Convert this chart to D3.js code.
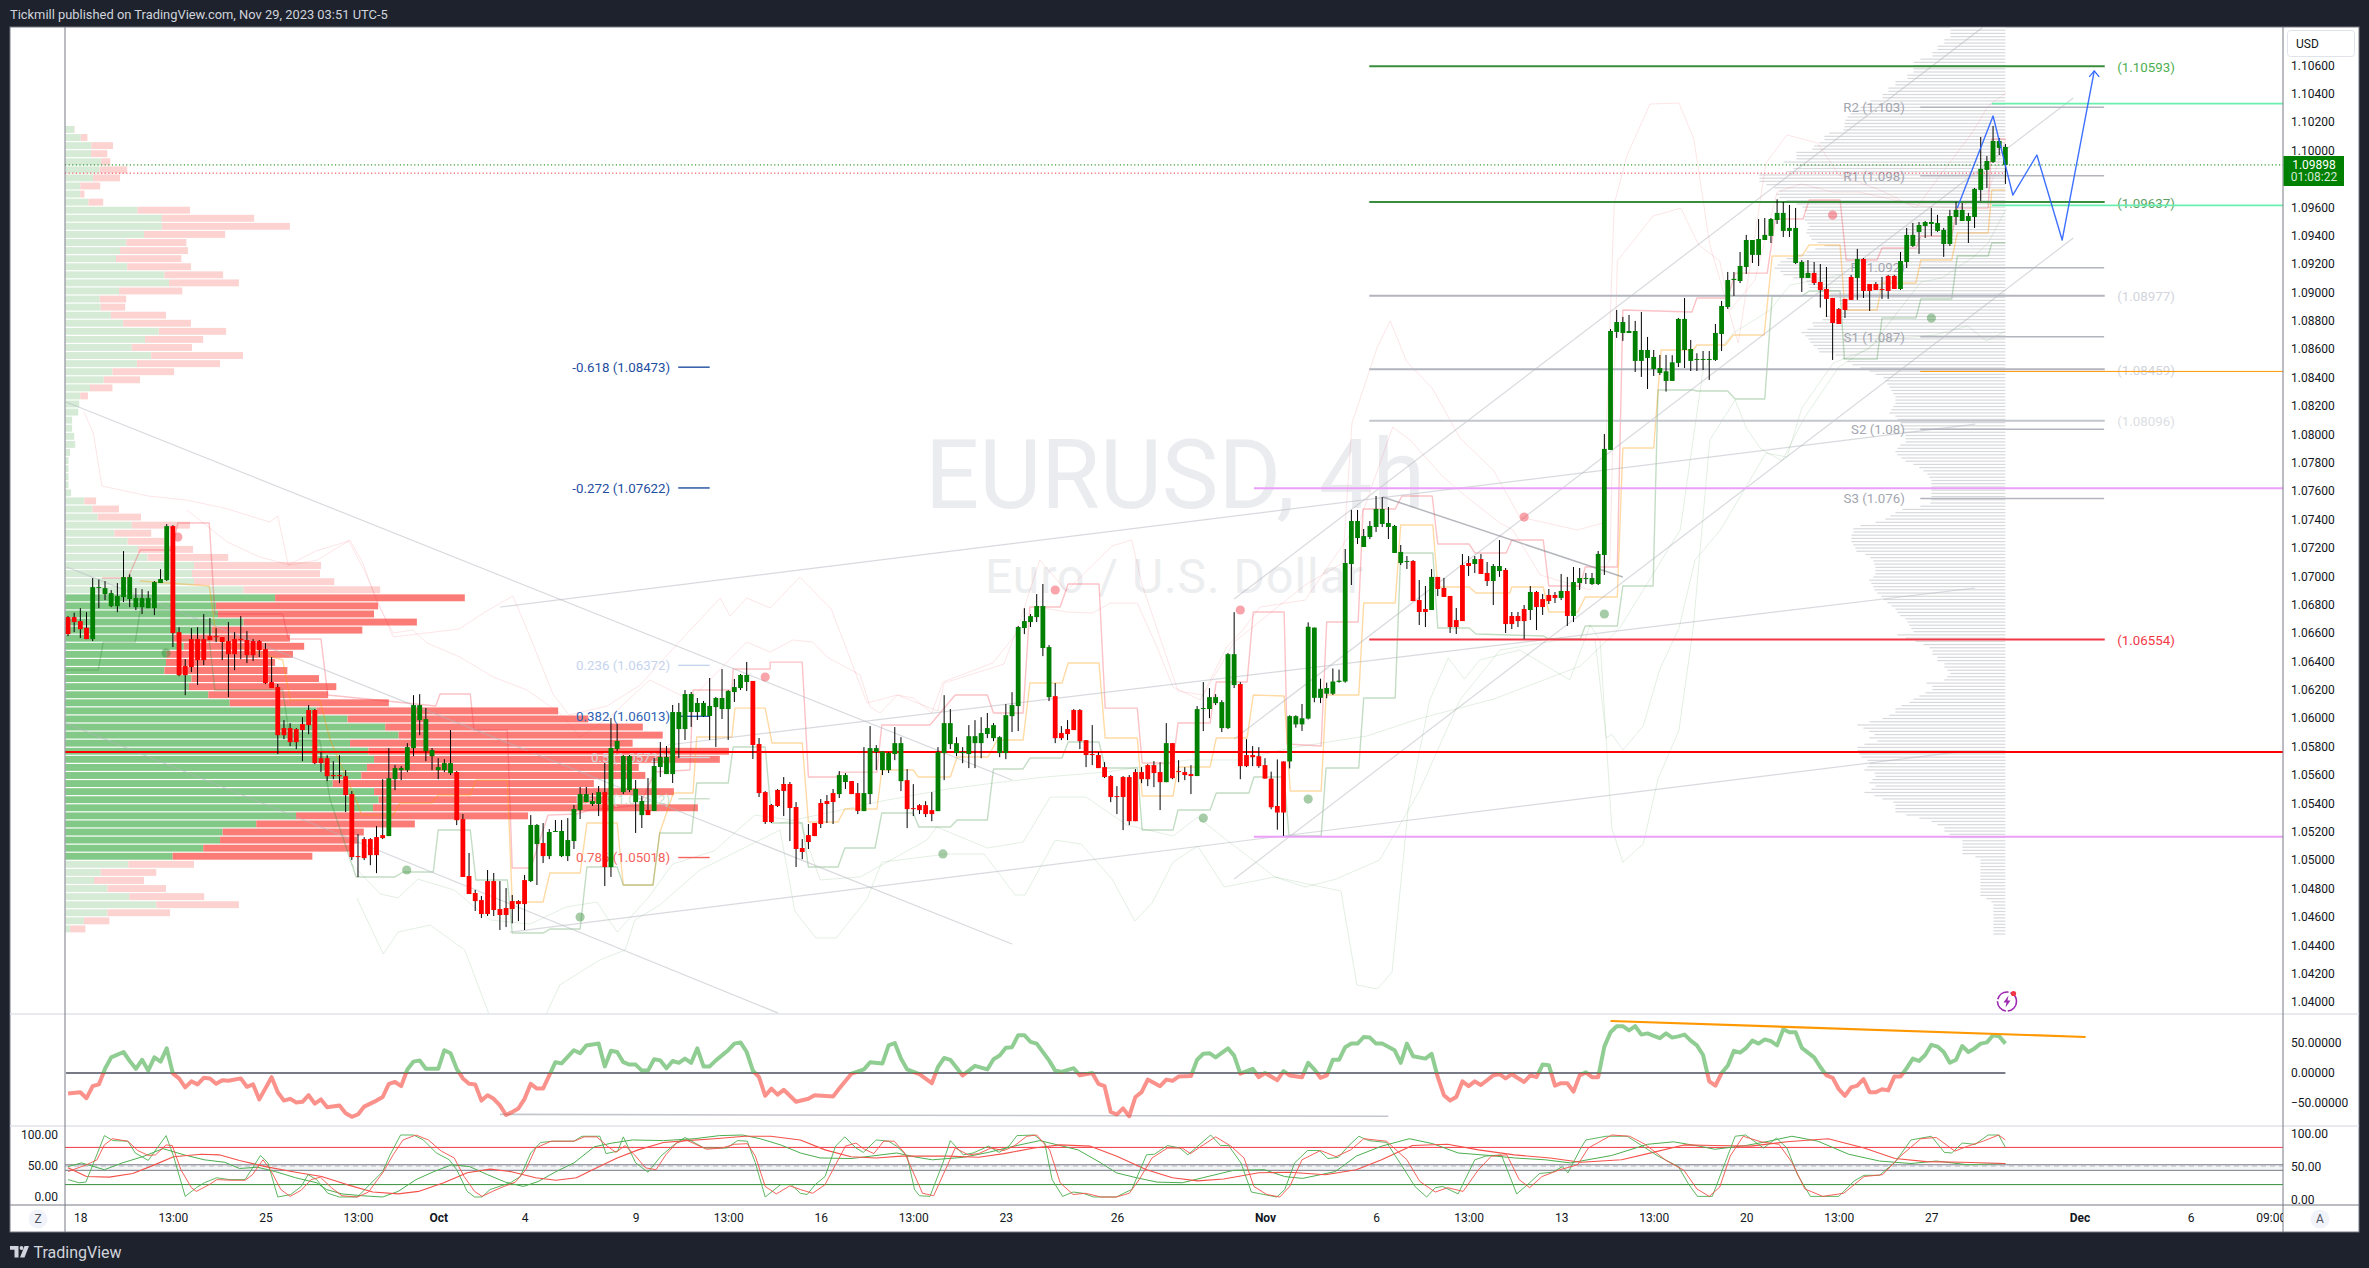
<!DOCTYPE html>
<html><head><meta charset="utf-8">
<script src="https://cdnjs.cloudflare.com/ajax/libs/d3/7.8.5/d3.min.js"></script>
<style>
html,body{margin:0;padding:0;background:#1e222d;}
svg{display:block;font-family:Roboto,sans-serif;}
text{font-family:Roboto,sans-serif;}
</style></head><body><svg id="c" width="2369" height="1268"></svg>
<script>
// all prices below are stored as (price - 1) * 100000 ; rows are [open, high, low, close]
const septemberBars=[[6712,6719,6578,6592],[6712,6743,6606,6677],[6684,6775,6564,6627],[6637,6747,6557,6557],[6557,6987,6543,6923],[6919,6977,6775,6923],[6874,6966,6832,6916],[6789,6902,6782,6881],[6789,6952,6747,6860],[6853,7177,6818,6994],[6839,7013,6782,6994],[6782,6916,6761,6846],[6782,6909,6733,6846],[6775,6895,6775,6846],[6775,6966,6726,6959],[6952,7050,6952,6980],[6973,7367,6966,7353],[7353,7360,6501,6599],[6606,6641,6296,6303],[6367,6416,6162,6303],[6557,6634,6324,6360],[6557,6641,6233,6409],[6557,6733,6374,6409],[6578,6705,6550,6550],[6578,6634,6536,6571],[6571,6571,6409,6536],[6543,6677,6148,6451],[6557,6606,6338,6451],[6557,6719,6416,6550],[6550,6613,6388,6444],[6543,6557,6402,6444],[6543,6550,6430,6479],[6486,6529,6240,6247],[6254,6430,6212,6212],[6219,6240,5747,5880],[5930,5986,5852,5880],[5930,5965,5803,5831],[5923,5930,5782,5831],[5958,6007,5697,5916],[6057,6092,5887,5951],[6057,6064,5676,5683],[5718,5761,5620,5683],[5718,5739,5556,5591],[5599,5697,5570,5591],[5599,5739,5542,5591],[5591,5634,5338,5458],[5465,5486,5000,5021],[5028,5183,4880,5021],[5148,5162,5000,5014],[5148,5155,4964,5035],[5162,5239,4908,5035],[5176,5570,5148,5155],[5169,5789,5169,5577],[5570,5669,5493,5648],[5634,5662,5563,5648],[5634,5824,5620,5796],[5789,6162,5732,6092],[5986,6169,5880,6092],[5768,6071,5697,5993],[5732,5789,5634,5775]];
const octoberBars=[[5634,5718,5570,5655],[5634,5711,5620,5683],[5613,5916,5599,5683],[5620,5627,5246,5281],[5289,5324,4881,4881],[4888,5050,4761,4761],[4768,4790,4641,4711],[4718,4747,4592,4620],[4852,4930,4606,4620],[4852,4909,4606,4648],[4655,4852,4507,4613],[4662,4803,4528,4613],[4711,4754,4554,4655],[4711,4718,4570,4690],[4859,4895,4507,4690],[4852,5317,4845,5247],[5113,5254,4824,5247],[5120,5261,4979,5028],[5028,5219,5007,5198],[5198,5282,5198,5205],[5028,5282,5021,5205],[5028,5296,4993,5141],[5134,5388,5078,5360],[5353,5515,5289,5465],[5409,5515,5409,5465],[5395,5472,5381,5416],[5395,5522,5310,5479],[5479,5684,4817,4951],[4951,6001,4881,5790],[5783,5959,5768,5839],[5479,5740,5465,5733],[5494,5740,5479,5733],[5409,5564,5191,5501],[5317,5451,5226,5416],[5353,5578,5317,5317],[5346,5719,5346,5663],[5656,5832,5585,5726],[5606,5804,5606,5726],[5606,6093,5543,6043],[5923,6107,5719,6043],[5923,6198,5846,6170],[6043,6184,5938,6170],[6043,6142,5987,6107],[6015,6121,6008,6107],[6015,6283,5846,6086],[6078,6149,5797,6142],[6064,6346,5994,6142],[6064,6198,5846,6191],[6184,6276,6114,6219],[6212,6311,6198,6304],[6255,6396,6191,6304],[6262,6262,5712,5811],[5818,5860,5444,5472],[5479,5486,5254,5268],[5388,5395,5261,5268],[5494,5501,5374,5381],[5536,5585,5310,5487],[5536,5550,5134,5367],[5374,5409,4951,5078],[5085,5148,5007,5057],[5176,5254,5078,5127],[5261,5261,5169,5169],[5402,5430,5226,5254],[5416,5458,5261,5395],[5472,5501,5254,5409],[5465,5627,5437,5599],[5550,5613,5501,5599],[5557,5557,5465,5465],[5472,5543,5324,5346],[5345,5796,5345,5472],[5465,5944,5394,5789],[5761,5810,5634,5789],[5634,5765,5599,5765],[5634,5761,5613,5754],[5747,5937,5704,5824],[5556,5866,5486,5824],[5563,5641,5225,5359],[5366,5535,5310,5359],[5387,5394,5324,5352],[5387,5415,5303,5324],[5352,5479,5274,5324],[5345,5796,5345,5761],[5754,6162,5563,5965],[5817,6064,5782,5965],[5754,5866,5732,5824],[5754,5796,5683,5761],[5747,5951,5648,5873],[5824,5986,5648,5873],[5824,6007,5718,5895],[5888,6036,5859,5930],[5859,5965,5838,5951],[5754,5873,5725,5866],[5754,6099,5711,6021],[6014,6183,5902,6092],[6085,6649,5909,6642],[6635,6775,6592,6684],[6677,6733,6642,6719],[6712,6874,6677,6790],[6494,6945,6437,6790],[6148,6515,6120,6501],[6155,6247,5824,5859],[5895,5944,5845,5859],[5923,5986,5845,5888],[6057,6064,5916,5916],[6057,6064,5782,5838],[5845,5845,5655,5740],[5747,5951,5669,5740],[5740,5761,5648,5648],[5655,5690,5578,5585],[5592,5599,5408,5444],[5451,5521,5324,5444],[5585,5592,5211,5444],[5585,5599,5246,5274],[5620,5641,5274,5274],[5620,5655,5542,5570],[5669,5676,5521,5570],[5669,5697,5514,5613],[5620,5690,5352,5549],[5549,5965,5549,5824],[5824,5824,5570,5577],[5627,5704,5549,5620],[5620,5655,5563,5599],[5606,5669,5465,5592],[5592,6085,5592,6064],[6064,6254,5909,6071],[6064,6212,6000,6148],[6106,6169,6092,6148],[5930,6127,5902,6113],[5930,6458,5923,6451],[6233,6747,6212,6451],[6240,6254,5570,5662],[5740,5852,5655,5662],[5740,5803,5662,5725],[5732,5796,5650,5662]];
const novemberBars=[[5669,5718,5574,5574],[5574,5623,5358,5372],[5381,5709,5214,5335],[5695,5695,5171,5335],[5695,6020,5646,6014],[5956,6020,5933,6014],[5956,6100,5910,5999],[5997,6675,5991,6644],[6143,6638,6112,6638],[6143,6278,6106,6207],[6172,6250,6140,6212],[6172,6350,6163,6258],[6255,6342,6250,6264],[6258,7192,6250,7093],[7086,7467,6938,7389],[7269,7467,7227,7389],[7206,7333,7206,7283],[7276,7389,7262,7354],[7347,7565,7312,7474],[7368,7558,7347,7474],[7347,7488,7262,7375],[7164,7361,7164,7354],[7093,7220,7079,7171],[7100,7142,7051,7107],[7107,7114,6825,6825],[6832,6973,6656,6748],[6769,6931,6642,6748],[6762,7051,6762,6995],[6995,6995,6861,6910],[6917,6988,6854,6854],[6861,6861,6600,6642],[6691,6776,6593,6642],[7079,7157,6684,6684],[7093,7142,7002,7072],[7086,7142,7023,7121],[7121,7157,7016,7016],[7023,7100,6931,6966],[6966,7086,6797,7072],[7037,7255,6995,7072],[7044,7058,6600,6663],[6720,6748,6628,6663],[6720,6748,6642,6684],[6769,6797,6558,6684],[6762,6931,6691,6889],[6889,6896,6621,6783],[6839,6875,6727,6783],[6868,6910,6804,6825],[6868,6889,6811,6847],[6847,7016,6832,6896],[6896,6995,6649,6720],[6720,7065,6677,6959],[6952,7058,6903,6987],[6980,7023,6945,6987],[6945,7023,6938,6987],[6945,7178,6938,7157],[7150,8002,7009,7897],[7890,8742,7890,8728],[8721,8876,8679,8791],[8714,8827,8658,8791],[8714,8841,8714,8728],[8517,8799,8439,8728],[8517,8862,8404,8594],[8538,8686,8319,8594],[8460,8594,8411,8545],[8432,8559,8418,8467],[8376,8559,8301,8444],[8376,8557,8376,8507],[8503,8820,8474,8813],[8594,8961,8467,8813],[8517,8665,8446,8601],[8524,8571,8446,8531],[8524,8587,8453,8531],[8524,8587,8383,8531],[8524,8777,8517,8714],[8707,8939,8587,8904],[8897,9144,8883,9087],[9087,9144,8975,9095],[9080,9285,9066,9186],[9179,9405,9130,9369],[9264,9369,9207,9369],[9264,9517,9186,9376],[9369,9524,9369,9405],[9398,9524,9348,9517],[9510,9656,9482,9560],[9433,9637,9390,9560],[9433,9616,9390,9454],[9207,9595,9200,9454],[9102,9228,9003,9214],[9102,9228,9102,9137],[9137,9214,9052,9066],[9073,9200,8893,9017],[9024,9179,8827,8954],[8961,8961,8524,8784],[8883,8890,8777,8777],[8954,8954,8820,8876],[9109,9123,8947,8947],[9102,9306,8947,9235],[9235,9242,8961,9010],[9059,9059,8869,9010],[9059,9073,9017,9017],[9024,9109,8954,9017],[9116,9123,8954,9010],[9116,9123,9024,9024],[9024,9285,9017,9221],[9214,9454,9172,9405],[9327,9489,9320,9405],[9426,9496,9271,9475],[9468,9503,9383,9496],[9482,9595,9398,9496],[9433,9546,9426,9489],[9341,9454,9250,9440],[9341,9581,9327,9538],[9531,9637,9475,9581],[9503,9630,9503,9581],[9503,9560,9348,9538],[9531,9736,9454,9729],[9722,10095,9644,9870],[9863,9961,9736,9926],[9919,10173,9912,10067],[10018,10088,9968,10067],[9898,10046,9764,10025]];

const priceTicks=[1.106,1.104,1.102,1.1,1.098,1.096,1.094,1.092,1.09,1.088,1.086,1.084,1.082,1.08,1.078,1.076,1.074,1.072,1.07,1.068,1.066,1.064,1.062,1.06,1.058,1.056,1.054,1.052,1.05,1.048,1.046,1.044,1.042,1.04];
const timeTickBars=[2,17,32,47,60,74,92,107,122,137,152,170,194,212,227,242,257,272,287,302,326,344,357];
const timeTickLabels=["18","13:00","25","13:00","Oct","4","9","13:00","16","13:00","23","26","Nov","6","13:00","13","13:00","20","13:00","27","Dec","6","09:00"];
const boldTicks=["Oct","Nov","Dec"];
const lastPrice=1.09898, lastCountdown="01:08:22", bidPrice=1.0984;

// left volume profile rows, top to bottom
const profileTopPrice=1.10148, profileRowStep=0.000569, valueAreaFirst=58, valueAreaLast=90;
const profileBuy=[17,30,51,50,70,67,54,29,29,45,141,189,189,154,119,107,99,121,194,203,105,67,69,89,113,183,156,130,168,140,92,75,48,29,27,25,13,13,17,19,9,6,6,6,6,11,37,53,63,130,96,122,142,161,252,248,252,349,411,295,299,349,287,212,232,198,197,194,247,242,280,322,492,553,627,653,558,594,605,591,580,524,605,614,603,452,374,308,303,270,210,123,69,56,82,125,178,82,36,9];
const profileSell=[1,13,42,32,18,54,53,39,8,29,103,181,251,159,118,133,128,125,115,137,124,52,48,108,133,132,114,118,180,163,121,71,44,15,0,0,0,0,0,0,0,0,0,0,0,0,23,52,85,114,72,72,108,158,249,251,275,268,372,318,306,340,295,228,236,248,214,241,250,289,235,312,474,472,505,518,554,707,678,533,557,512,588,459,637,455,311,277,269,292,274,129,109,98,115,147,162,123,50,30];
// right session profile rows, top to bottom
const sessionTopPrice=1.1087, sessionBottomPrice=1.04479;
const sessionVolume=[55,55,55,55,61,61,68,68,73,73,85,92,92,92,92,98,98,110,110,117,117,123,123,135,140,145,150,155,158,160,161,161,162,176,181,181,186,191,193,209,209,209,222,209,212,219,246,246,246,239,231,226,229,226,219,209,203,201,199,201,201,198,196,198,199,196,194,188,181,190,199,210,219,225,228,231,225,222,212,199,197,196,185,175,170,166,165,164,162,170,180,183,193,192,198,204,200,197,195,192,188,186,170,163,158,153,145,136,130,122,120,118,116,114,112,110,110,110,112,114,116,110,108,105,105,103,102,100,100,100,105,108,110,108,104,100,92,86,82,78,76,74,74,74,74,74,74,74,75,85,103,110,115,120,130,145,152,152,154,154,154,152,150,149,140,135,132,131,130,130,130,132,136,134,132,131,128,124,122,118,114,110,108,105,100,98,96,94,92,108,100,90,82,76,73,73,68,68,61,61,58,55,58,61,79,73,73,80,86,92,96,104,110,110,116,123,136,148,142,136,131,136,128,141,148,148,146,144,138,136,138,141,131,130,133,136,130,134,141,131,123,112,110,110,110,99,86,74,68,61,61,56,55,43,43,43,43,43,30,25,25,25,25,25,25,25,25,25,25,25,25,19,14,12,12,12,12,12,12,12,12,12,12];

// step channels: [bar, price offset]
const channelRed=[[5.5,6987],[9.7,6987],[11.7,7185],[16.9,7185],[17.8,7375],[22.9,7375],[23.8,6734],[34.8,6734],[35.7,6558],[41,6558],[42.1,6163],[59.6,6086],[60.3,6170],[65.2,6170],[65.8,5916],[71.2,5916],[72,4944],[75,4944],[77.8,5317],[82.5,5325],[84.6,5353],[92.7,5388],[95.1,5621],[100.8,5635],[101.3,6198],[107.6,6198],[107.8,6346],[113.8,6346],[113.8,6395],[119,6395],[120,5585],[124.6,5585],[125.1,5620],[131.1,5620],[131.9,5952],[139.7,5952],[143.8,6163],[149,6163],[150,6036],[154.8,6036],[155.9,6783],[160.8,6783],[162.1,6945],[167.1,6945],[168.1,6071],[173.3,6071],[174.1,5684],[179.1,5684],[179.9,5966],[185.1,5966],[186.1,6255],[191.1,6255],[192.1,6748],[197.1,6748],[197.6,5818],[203.1,5804],[204,6677],[209.1,6677],[209.9,7474],[215.1,7474],[216.2,7565],[221.1,7565],[222,7227],[227.1,7227],[228,7164],[233.1,7164],[234,7255],[239.1,7255],[240,6931],[245.1,6931],[245.9,7065],[251.1,7065],[252,8876],[263.2,8862],[264,8960],[269,8960],[270.2,9136],[275.4,9136],[276.7,9517],[281.2,9517],[282.2,9651],[287.2,9651],[288.2,9228],[293.2,9228],[294,9313],[299.5,9313],[300.3,9397],[305.3,9397],[306.2,9594],[311.2,9594],[311.8,10081],[314,10081]];
const channelOrange=[[11.7,6966],[22.9,6931],[24.1,6551],[34.8,6410],[36,6128],[40.8,6128],[42.5,5846],[46.7,5423],[47.6,5317],[52.7,5317],[53.8,5402],[59,5402],[60,5458],[65.2,5458],[66.1,5564],[71.2,5564],[72,4705],[77,4705],[78.1,4909],[83,4909],[84.1,5261],[89,5261],[90,4824],[94.8,4824],[95.9,5191],[98.1,5473],[101.3,5473],[101.9,5867],[107.6,5867],[108.1,6071],[113,6071],[114.1,5825],[119,5825],[120,5268],[124.8,5268],[125.9,5360],[131.1,5360],[131.9,5635],[137,5635],[137.8,5585],[143,5585],[144.1,5726],[149.1,5726],[150.6,5846],[154.8,5846],[155.9,6248],[161.1,6248],[162.1,6389],[167.1,6389],[168.1,5860],[173.3,5860],[174.1,5451],[179.1,5451],[179.9,5656],[185.1,5656],[186.1,5860],[191.1,5860],[192.1,6163],[197.1,6156],[198.1,5487],[203.1,5487],[203.9,6163],[209.2,6163],[210,6811],[215.1,6811],[216,7361],[221.2,7361],[222,6924],[227.1,6924],[228.2,6882],[233.7,6882],[234,6924],[239.1,6924],[240,6748],[244.7,6748],[245.9,6854],[251.1,6854],[252,7903],[257,7903],[258.2,8594],[263.4,8594],[264,8629],[268.6,8629],[269.9,8700],[274.9,8700],[276.2,9256],[281,9256],[282.2,9334],[287.2,9334],[288,8876],[293.2,8876],[294,9066],[299.5,9066],[300.3,9228],[305.3,9228],[306.2,9418],[311.2,9418],[311.8,9721],[314,9721]];
const channelGreen=[[-0.3,6339],[4.9,6339],[5.7,6536],[10.9,6536],[11.7,6762],[16.9,6762],[17.8,6551],[22.9,6551],[23.8,6198],[34.8,6198],[36,5846],[40.8,5846],[42.5,5423],[46.7,4881],[53,4881],[54.3,4916],[59.2,4916],[60,5212],[65.2,5212],[66.1,4860],[71.2,4860],[72,4486],[77,4486],[78.1,4514],[83,4514],[84.1,4951],[89,4951],[90,4824],[94.8,4824],[95.9,5191],[101.1,5191],[101.9,5543],[107,5543],[107.8,5797],[113,5797],[114.1,5261],[119,5261],[120,4951],[124.8,4951],[125.9,5085],[130.8,5085],[131.9,5332],[137,5332],[137.9,5233],[143,5233],[144.1,5282],[149,5282],[150,5642],[154.8,5642],[155.9,5719],[161.1,5719],[162.1,5832],[167.1,5832],[168.1,5649],[173.3,5649],[174.1,5212],[179.1,5212],[179.9,5353],[185.1,5353],[186.1,5473],[191.4,5473],[192.2,5585],[197.1,5585],[197.9,5170],[203.1,5170],[203.9,5649],[209.2,5649],[210,6142],[215.1,6142],[216,7164],[221.2,7164],[222,6635],[227.1,6635],[228.2,6593],[239.1,6579],[240,6558],[245.1,6558],[245.9,6649],[251.1,6649],[252,6931],[256.9,6931],[257.7,8312],[263.4,8312],[264,8305],[269,8305],[270.2,8249],[275,8249],[276.2,8974],[281,8974],[282.2,9010],[287.2,9010],[287.9,8530],[293.2,8530],[294,8819],[299.5,8819],[300.3,8953],[305.3,8953],[306.2,9256],[311.2,9256],[311.8,9348],[314,9348]];
// envelope bands
const bandUpperOuter=[[2.6,8157],[4.1,8009],[5.5,7636],[13,7565],[19.1,7537],[25.3,7481],[32.7,7382],[34,7424],[35.7,7079],[40.2,7178],[45.5,7248],[48.1,7037],[52.7,6572],[63.4,6628],[67.6,6748],[72.1,6861],[74.9,6572],[78.6,6170],[81.2,6022],[87.4,6086],[92.7,6233],[99.8,6572],[105.7,6846],[107.3,6720],[110,6846],[113.8,6776],[118.6,6994],[123.7,6769],[129.5,6107],[134.4,6163],[141,6050],[142,6248],[151.7,6381],[154.3,6684],[157.5,7114],[161.8,6896],[169.2,7213],[172.4,7255],[174.1,6938],[179.9,6191],[184,6163],[189,6536],[200.5,6938],[206.6,7093],[208.1,8080],[212.2,8615],[214.3,8798],[217,8509],[221.1,8326],[225.6,7974],[231,7748],[235.3,7417],[244.6,7326],[248.8,7375],[250.6,9623],[252.7,9968],[256.4,10327],[261.1,10334],[263.5,10081],[266.1,9334],[270.7,8643],[275.2,9912],[278.6,10109],[283.6,10052],[287,9827],[293.7,9721],[299.5,9594],[308.8,10137],[311.2,10313],[314.1,10405]];
const bandUpperInner=[[19.3,7466],[25.8,7241],[31.1,7135],[36,7079],[40.4,7114],[45.7,7255],[47.8,7093],[50.1,6811],[52.7,6600],[55.9,6621],[58.2,6529],[63.5,6431],[68.9,6290],[74.4,6198],[79.7,6036],[83,5867],[87.8,6008],[94.3,6269],[100.8,6128],[110,6536],[113.8,6466],[117.5,6551],[120.7,6536],[123,6431],[128.4,6304],[130,6078],[131.6,6036],[134.4,6163],[137,6142],[140,6036],[141.8,6255],[149.9,6389],[153.8,6600],[158,6776],[161.9,6748],[166.1,6741],[168.9,6811],[173.3,6811],[176.5,6501],[179.1,6219],[183.5,6128],[187.8,6501],[190.4,6621],[193.2,6783],[200.5,6832],[209.4,7396],[214.7,8051],[217.5,7960],[222.9,7699],[226.7,7558],[232.1,7375],[234.2,7326],[238.6,7009],[246.7,6903],[249.9,7114],[251.1,9221],[256.9,9538],[261.4,9594],[264.3,9334],[267.7,9221],[269.4,8876],[273.4,9087],[277,9707],[281,9764],[286,9707],[290.3,9707],[300.3,9609],[306.2,9594],[311.2,9707],[314.1,10081]];
const bandLowerOuter=[[46.8,4733],[51.1,4338],[53.5,4493],[58.7,4542],[64.3,4366],[69.2,3803],[76.5,3803],[77.5,3915],[79.7,4120],[86.2,4296],[90.3,4366],[91.9,4578],[95.9,4683],[102.4,4930],[108.9,5071],[115.4,5212],[117.8,4641],[121.2,4451],[124.5,4451],[129.5,4726],[131.9,4986],[142.6,5043],[148.5,5043],[153.5,4754],[155.1,4754],[160,5141],[164.2,5113],[169.2,4867],[172.9,4571],[175.7,4697],[179.1,4986],[183.1,5099],[187.4,4810],[195.6,4881],[206.3,4782],[208.9,4120],[212.2,4092],[214.6,4211],[217.2,5360],[220.7,6128],[223.7,6424],[226.3,6276],[228.8,6410],[235.3,6480],[243.4,6269],[246.7,6656],[248.3,6551],[250.2,5226],[252,4986],[255.3,5113],[257.7,5571],[261.1,5916],[263.4,6635],[266.1,7960],[270.2,8242],[272,8044],[274.4,7896],[277.8,7812],[281.2,8101],[287,8474],[293.7,8664],[302.6,8700],[307.9,8763],[310.9,8657],[314.1,8728]];
const bandLowerInner=[[46,4972],[50.6,4761],[53.5,4733],[56.7,4866],[62.6,4789],[68.4,4578],[74.9,4549],[80.7,4669],[85.7,4704],[89,4493],[94,4733],[98,4972],[104.7,5064],[111.3,5317],[118.6,5275],[121.9,4860],[128.4,4881],[139.2,5141],[140.8,5233],[149,5085],[154.8,5127],[159.2,5444],[165,5444],[171.6,5247],[179.1,5170],[183.1,5303],[188.2,5127],[195.6,4881],[200.5,4810],[205.5,4866],[212.6,5001],[219.1,5494],[225.6,6128],[232.1,6480],[241.8,6551],[247.5,6551],[249.3,5860],[250.2,5888],[252,5775],[255.3,5945],[258,6346],[261.1,6635],[263.7,7114],[267.8,7326],[275.2,7868],[278.6,7840],[281,8185],[286.1,8502],[291.9,8601],[300.3,9073],[303.7,9101],[308.8,9249],[311.2,9348],[314.1,9587]];
const bandMiddle=[[115.4,5261],[126.1,5360],[131.9,5416],[142.6,5501],[150.1,5543],[158.3,5585],[168.4,5621],[181.5,5705],[189.8,5705],[198.1,5790],[210.5,5874],[218.8,5994],[231.1,6135],[245.1,6367],[251.5,6635],[261.3,7326],[265,8453],[269.9,8714],[275.9,8876],[279.1,9052],[287.2,9122]];
// trend lines [bar0,price0,bar1,price1]
const trendLines=[[-0.3,8228,153,5564],[-0.2,7065,153,4409],[-0.3,5963,115.1,3922],[70,6783,309.1,8072],[71.6,4493,306.2,5761],[97.2,5811,309.1,6917],[189,6839,310.4,10870],[189,4867,325,9383],[189,5853,325,10370]];
const darkTrend=[213.1,7558,252,6994];
const forecastPath=[[306.2,9594],[312,10243],[315.2,9686],[319.1,9968],[323.2,9369],[328.4,10560]];
const redSignals=[[17.8,7276],[113,6290],[160,6903],[190,6762],[236,7417],[286,9545]];
const greenSignals=[[15.9,6459],[54.9,4930],[83,4599],[141.8,5043],[184,5296],[201,5430],[249,6734],[302,8819]];

// long horizontal lines
const fibBars=[210.9,330.1];
const fibLevels=[1.10593,1.09637,1.08977,1.08459,1.08096,1.06554];
const fibLabels=["(1.10593)","(1.09637)","(1.08977)","(1.08459)","(1.08096)","(1.06554)"];
const fibLineColors=["#388e3c","#388e3c","#b2b5be","#b2b5be","#c4c6cd","#f23645"];
const fibTextColors=["#4caf50","#5e9e62","#d1d4dc","#d1d4dc","#dcdee3","#f23645"];
const pivotPrices=[1.10304,1.09822,1.09174,1.08687,1.08036,1.07548];
const pivotLabels=["R2 (1.103)","R1 (1.098)","P (1.092)","S1 (1.087)","S2 (1.08)","S3 (1.076)"];
const leftFibPrices=[1.08473,1.07622,1.06372,1.06013,1.05723,1.05432,1.05018];
const leftFibLabels=["-0.618 (1.08473)","-0.272 (1.07622)","0.236 (1.06372)","0.382 (1.06013)","0.5 (1.05723)","0.618 (1.05432)","0.786 (1.05018)"];
const leftFibColors=["#1e4e9e","#1e4e9e","#c5d3ee","#2f5fb3","#d5d6da","#c9dfca","#f6625c"];
const magentaLevels=[1.07620,1.05164], supportLine=1.05761, mintLevels=[1.10330,1.09613], orangeLevel=1.08443;

// oscillator: bar, value
const cciBars=[0,2,3,4,5,6,7,9,10,11,12,13,14,15,16,17,18,19,20,21,22,23,24,25,26,28,29,30,31,33,34,35,36,37,38,39,40,41,42,44,45,46,47,48,50,51,52,53,54,55,56,57,58,60,61,62,63,64,65,66,67,68,69,70,71,72,73,74,75,76,77,78,79,80,82,83,84,86,87,88,89,90,91,92,93,94,95,96,97,98,99,100,101,102,103,104,105,107,108,109,110,111,112,113,114,115,116,117,118,120,121,124,125,127,129,130,132,133,134,135,136,138,140,141,142,143,145,147,149,150,151,152,153,154,155,156,157,159,160,161,163,164,166,167,168,169,170,171,172,173,174,175,177,178,179,180,182,183,184,185,186,188,189,190,192,193,194,196,197,198,200,201,202,203,204,205,206,207,208,209,210,211,212,213,215,216,217,218,220,221,222,223,224,225,226,227,228,229,231,232,233,234,236,237,238,239,240,241,242,243,244,245,246,247,248,249,250,251,252,253,254,255,256,257,258,259,260,261,262,263,264,265,266,267,268,269,270,271,272,273,274,275,276,277,278,279,280,281,282,283,284,285,286,287,288,289,290,291,292,293,294,295,296,297,298,299,300,301,302,303,304,305,306,307,308,309,310,311,312,313,314];
const cciValues=[-34,-32,-42,-22,-19,7,26,35,20,7,22,4,26,19,41,-1,-9,-24,-14,-19,-8,-9,-18,-12,-13,-9,-23,-19,-44,-7,-32,-46,-43,-49,-48,-37,-51,-44,-57,-54,-67,-73,-69,-56,-46,-40,-18,-15,-22,6,19,21,7,7,38,33,7,-9,-18,-19,-46,-37,-43,-54,-70,-65,-59,-43,-18,-26,-26,-4,18,16,38,33,46,49,11,37,35,18,14,14,4,4,23,21,8,20,17,24,17,41,11,11,21,38,49,51,35,4,-7,-38,-26,-36,-28,-38,-48,-43,-37,-39,-26,-1,6,18,16,46,50,24,6,-2,-17,10,25,22,-4,12,6,23,29,42,43,63,63,52,49,21,4,2,8,-4,0,-18,-22,-65,-69,-59,-72,-40,-32,-11,-22,-11,-13,-6,-5,22,32,33,26,41,29,-1,7,-7,0,-12,3,-4,-7,17,6,-8,-4,22,22,43,49,49,60,59,49,49,38,17,49,28,24,32,-7,-37,-46,-40,-14,-22,-14,-20,-4,-2,-9,-2,-15,-4,-7,14,13,-21,-17,-17,-31,-4,1,-7,-7,44,68,78,78,71,78,64,66,62,58,66,59,61,64,54,46,30,-14,-21,0,12,37,34,42,54,49,56,53,46,73,68,68,42,34,26,10,-4,-8,-27,-38,-24,-21,-10,-32,-32,-27,-29,-6,-6,8,24,20,30,47,44,35,17,22,45,35,41,49,51,63,61,49,43];
const cciFloorLine=[70,-69,214,-72];
const cciResistance=[250,86.7,327,60];
const cciAxisTicks=[50,0,-50];

// stochastic pairs [bar, value]
const stochFastK=[[0,28],[1.8,23],[2.9,24],[5.9,99],[7.3,91],[9.7,90],[10.9,71],[13,59],[15.9,99],[17.1,66],[19,1],[20.8,15],[22.1,23],[24.1,31],[26.2,28],[28.7,28],[31.2,67],[32.4,55],[34,0],[36.1,4],[37.8,17],[38.9,36],[40.3,28],[42.1,6],[44,0],[46.9,0],[48.9,20],[51,41],[52.2,68],[53.9,100],[56,100],[57.6,92],[59.7,71],[61.8,60],[63,44],[64.7,9],[65.9,0],[67.1,0],[68.4,12],[71.7,23],[73.3,33],[75,71],[76.6,88],[78.7,90],[82,90],[83.3,98],[86.2,98],[87.2,70],[89.1,74],[90,97],[92,55],[94,40],[96.1,66],[98.2,84],[100,96],[103.1,79],[106.8,79],[108.5,91],[110.1,90],[111.4,55],[113,0],[115.5,20],[117.2,20],[118.7,6],[119.8,4],[121.1,20],[122.7,33],[124.4,82],[125.9,97],[127.7,79],[128.9,72],[131,92],[133,90],[134.3,82],[136,66],[137.2,12],[138,2],[139.7,1],[141.8,55],[143,91],[145.1,68],[146.7,71],[149.2,82],[150.9,72],[152.5,82],[153.8,99],[156.6,100],[158.3,87],[159.5,28],[161.2,1],[162.9,8],[164.5,6],[166.2,0],[169.9,0],[171.1,6],[172.4,12],[174.8,68],[176.1,69],[178.2,83],[180.2,79],[181.5,68],[183.1,82],[185.2,100],[186.8,83],[188.1,83],[190.1,55],[191.8,8],[195.9,0],[197.2,12],[198.8,55],[200.9,75],[202.8,75],[204.2,62],[205.9,64],[207.5,82],[209.2,98],[210.8,91],[213.7,88],[216.6,44],[218.3,17],[220.2,0],[221.6,15],[222.8,17],[225.3,5],[228,60],[229.8,66],[232.3,68],[234.8,5],[236.9,23],[238.5,38],[240.6,40],[242.2,49],[243.1,39],[245.2,79],[246,92],[249.3,98],[252.7,98],[255.2,82],[257.7,66],[261,49],[262.7,20],[264.1,1],[266.5,1],[268.6,56],[270.2,98],[271.9,100],[274.8,79],[276.9,95],[278.6,79],[280.3,36],[282.4,1],[287,1],[289.5,26],[291.1,35],[293.6,35],[296.1,56],[298.7,92],[302,98],[304.1,72],[305.3,71],[307,87],[309.1,85],[311.2,100],[312.9,100],[314,80]];
const stochFastD=[[0,41],[3,52],[4.7,60],[5.9,84],[7.2,94],[9.7,90],[11.3,75],[13,67],[14.2,68],[15.9,84],[16.9,83],[18.3,44],[20,15],[20.8,9],[22.9,20],[24.1,28],[26.6,27],[28.7,27],[29.9,36],[31.6,60],[32.8,44],[34.5,12],[36,1],[37.8,11],[39.4,28],[40.9,32],[42.7,15],[44.4,2],[46.9,0],[48.7,8],[51,39],[52.7,68],[54.3,92],[56.4,100],[58.4,92],[60.5,74],[62.6,63],[64.2,33],[65.9,9],[67.1,1],[68.8,9],[70.4,16],[72.5,24],[74.2,44],[75.8,79],[78.3,90],[82,90],[83.7,97],[85.7,97],[87.4,82],[88.8,72],[90.3,83],[92,66],[93.6,47],[95.3,44],[96.9,68],[98.6,87],[100.2,92],[103.5,77],[106,79],[108,85],[110.1,86],[111.4,66],[113,17],[114.8,5],[117,18],[118.7,12],[120.7,6],[122.7,20],[124.4,52],[126,82],[127.7,87],[128.9,78],[130.6,70],[132.2,90],[133.9,90],[135.6,71],[136.8,44],[138.5,6],[140.3,2],[142.2,44],[143.8,79],[145.9,68],[147.6,70],[149.6,79],[151.7,75],[153.3,82],[155.4,98],[157,100],[159.1,76],[160.8,23],[162.9,4],[164.9,6],[167.4,0],[169.9,0],[172,6],[173.6,28],[175.7,63],[178.2,79],[180.6,79],[181.9,70],[184,84],[186,97],[188.5,82],[190.6,63],[192.2,17],[194.3,4],[196.4,0],[198,17],[200,60],[203,75],[205.5,65],[207.9,76],[210,94],[213.7,90],[217,60],[219.1,25],[221.6,8],[223.6,15],[226.1,9],[228.6,44],[230.7,66],[233.2,68],[235.2,28],[236.9,15],[238.9,33],[241.8,44],[244.7,52],[246.4,79],[250.2,100],[253.1,98],[255.6,85],[259,59],[261.9,43],[264,13],[266,1],[267.7,16],[269.4,66],[271.5,98],[274.4,89],[277.3,85],[279.4,56],[281.5,13],[284.4,1],[287.8,6],[291.1,33],[294.1,36],[297,66],[300.3,94],[302.8,96],[305.8,74],[307.9,82],[310.4,90],[312.9,100],[314,92]];
const stochSlowK=[[0,49],[2.2,55],[5.9,44],[8.8,55],[12.1,65],[15.4,78],[18.8,68],[22.1,60],[25.4,56],[27.8,46],[30.7,48],[33.6,41],[36.9,31],[40.3,23],[41.9,12],[44.4,5],[47.7,2],[51,0],[53.5,9],[56.4,28],[59.3,41],[62.2,52],[65.1,49],[68,36],[70.9,24],[73.8,17],[76.2,25],[79.1,41],[82,55],[85.3,81],[88.2,87],[91.5,92],[96.5,91],[101.5,94],[105.6,99],[109.3,100],[112.2,94],[115.5,84],[118.7,71],[121.9,63],[126.9,62],[130.2,66],[134.3,71],[137.6,64],[140.1,60],[145.1,64],[149.2,72],[153.3,82],[157.5,91],[160.8,83],[163.7,76],[167.4,55],[169.9,39],[173.2,31],[176.5,24],[180.6,23],[183.9,31],[188.9,43],[193.9,44],[197.2,33],[200.1,30],[205.4,41],[208.8,66],[212.9,82],[217.4,94],[221.2,86],[225.3,71],[230.3,67],[234.4,63],[239.4,60],[243.5,55],[250.2,67],[256,85],[260.2,89],[264.4,82],[266.9,77],[271.9,83],[275.2,89],[279.4,98],[283.6,90],[288.6,69],[293.6,58],[298.7,54],[302.8,58],[307.9,52],[314,54]];
const stochSlowD=[[0,47],[3,33],[6.7,32],[10.5,38],[13.8,51],[17.1,65],[21.6,69],[24.5,68],[27.8,59],[32,49],[36.9,40],[41.1,33],[45.2,20],[49.4,8],[53.5,5],[56.8,9],[60.9,23],[64.7,39],[68.4,45],[71.7,41],[75.8,31],[79.1,27],[82.4,31],[85.7,47],[89,63],[92.4,76],[96.5,88],[100.2,91],[104.8,94],[109.7,98],[113.9,98],[118.7,92],[122.7,76],[126.9,65],[131,63],[135.1,66],[142.6,66],[147.6,64],[151.7,70],[156.6,79],[160.8,84],[165.7,82],[169.9,66],[174.8,44],[179,31],[183.1,26],[187.3,29],[193,39],[198,40],[203.8,36],[208.8,44],[212.9,60],[217.9,83],[223.6,85],[228.6,76],[234.4,68],[240.2,63],[245.2,56],[251.8,60],[256.9,72],[261.9,84],[266.9,83],[272.7,82],[278.6,89],[285.3,94],[291.1,79],[296.1,62],[301.2,57],[307,56],[314,54]];
const stochLevels=[80,52,43,20], stochMid=50, stochAxisTicks=[100,50,0];

const toPrice=v=>1+v/1e5;
const candles=[...septemberBars,...octoberBars,...novemberBars];
const svg=d3.select("#c");
const W=2369,H=1268,P={l:10,r:2359,t:27,b:1232,plot:65,axis:2283,main:1014,osc:1126,st:1205};
const x=d3.scaleLinear().domain([0,314]).range([68,2005.4]);
const y=d3.scaleLinear().domain([1.106,1.04]).range([65.3,1002]);
const oy=d3.scaleLinear().domain([50,-50]).range([1043,1103]);
const sy=d3.scaleLinear().domain([100,0]).range([1135,1197]);
const volX=d3.scaleLinear().domain([0,1300]).range([0,663]);
const rowP=i=>profileTopPrice-i*profileRowStep;
const sessY=d3.scaleLinear().domain([0,sessionVolume.length-1]).range([y(sessionTopPrice),y(sessionBottomPrice)]);

const defs=svg.append("defs");
const clip=(id,a,b,c,d)=>defs.append("clipPath").attr("id",id).append("rect").attr("x",a).attr("y",b).attr("width",c-a).attr("height",d-b);
clip("mainClip",P.plot,P.t,P.axis,P.main);
clip("oscClip",P.plot,P.main,P.axis,P.osc);
clip("stClip",P.plot,P.osc,P.axis,P.st);
clip("timeClip",P.plot,P.st,P.axis,P.b);
clip("oscUp",P.plot,P.main,P.axis,oy(0));
clip("oscDown",P.plot,oy(0),P.axis,P.osc);

// chrome
svg.append("rect").attr("width",W).attr("height",H).attr("fill","#1e222d");
svg.append("rect").attr("x",P.l).attr("y",P.t).attr("width",P.r-P.l).attr("height",P.b-P.t).attr("fill","#fff").attr("stroke","#787b86").attr("stroke-width",1);
svg.append("text").attr("x",10).attr("y",19).attr("fill","#d1d4dc").attr("font-size",12.9).text("Tickmill published on TradingView.com, Nov 29, 2023 03:51 UTC-5");

const main=svg.append("g").attr("clip-path","url(#mainClip)");
// watermark
main.append("text").attr("x",925).attr("y",508).attr("font-size",96).attr("fill","#ebecef").attr("textLength",500).attr("lengthAdjust","spacingAndGlyphs").text("EURUSD, 4h");
main.append("text").attr("x",985).attr("y",593).attr("font-size",48).attr("fill","#edeef0").attr("textLength",378).text("Euro / U.S. Dollar");

// session profile
main.append("g").selectAll("rect").data(sessionVolume).join("rect")
 .attr("x",d=>x(314)-d).attr("width",d=>d).attr("y",(d,i)=>sessY(i)-0.6).attr("height",1.2)
 .attr("fill","#d8d9dc");

// left profile
const rowH=6.9;
const prof=main.append("g");
prof.selectAll("rect.b").data(profileBuy).join("rect").attr("class","b")
 .attr("x",P.plot+0.5).attr("y",(d,i)=>y(rowP(i))-rowH/2).attr("height",rowH).attr("width",d=>volX(d))
 .attr("fill",(d,i)=>i>=valueAreaFirst&&i<=valueAreaLast?"#82c886":"#d5ebd6");
prof.selectAll("rect.s").data(profileSell).join("rect").attr("class","s")
 .attr("x",(d,i)=>P.plot+0.5+volX(profileBuy[i])).attr("y",(d,i)=>y(rowP(i))-rowH/2).attr("height",rowH).attr("width",d=>volX(d))
 .attr("fill",(d,i)=>i>=valueAreaFirst&&i<=valueAreaLast?"#fb7c77":"#fcd3d0");

const lineP=d3.line().x(d=>x(d[0])).y(d=>y(toPrice(d[1])));
const addLine=(g,data,color,w,op)=>g.append("path").attr("d",lineP(data)).attr("fill","none").attr("stroke",color).attr("stroke-width",w).attr("stroke-opacity",op).attr("stroke-linejoin","round");
addLine(main,bandUpperOuter,"#f23645",1,.13);
addLine(main,bandUpperInner,"#f23645",1,.13);
addLine(main,bandLowerOuter,"#388e3c",1,.14);
addLine(main,bandLowerInner,"#388e3c",1,.14);
addLine(main,bandMiddle,"#388e3c",1,.14);
addLine(main,channelRed,"#f23645",1.4,.3);
addLine(main,channelOrange,"#ff9800",1.4,.36);
addLine(main,channelGreen,"#388e3c",1.4,.3);

const trend=main.append("g");
trend.selectAll("line").data(trendLines).join("line")
 .attr("x1",d=>x(d[0])).attr("y1",d=>y(toPrice(d[1]))).attr("x2",d=>x(d[2])).attr("y2",d=>y(toPrice(d[3])))
 .attr("stroke","#b2b5be").attr("stroke-opacity",.5).attr("stroke-width",1.2);
main.append("line").attr("x1",x(darkTrend[0])).attr("y1",y(toPrice(darkTrend[1]))).attr("x2",x(darkTrend[2])).attr("y2",y(toPrice(darkTrend[3]))).attr("stroke","#787b86").attr("stroke-opacity",.55).attr("stroke-width",1.5);

// horizontal level helpers
const hline=(g,p,a,b,c,w,extra)=>{const l=g.append("line").attr("x1",a).attr("x2",b).attr("y1",y(p)).attr("y2",y(p)).attr("stroke",c).attr("stroke-width",w);if(extra)l.attr("stroke-dasharray",extra);return l;};
const hlines=main.append("g");
hline(hlines,magentaLevels[0],x(192.2),P.axis,"#eaa0f8",2);
hline(hlines,magentaLevels[1],x(192.2),P.axis,"#eaa0f8",2);
fibLevels.forEach((p,i)=>hline(hlines,p,x(fibBars[0]),x(fibBars[1]),fibLineColors[i],2));
hlines.selectAll("text.fib").data(fibLabels).join("text").attr("class","fib")
 .attr("x",x(336.8)).attr("y",(d,i)=>y(fibLevels[i])+1).attr("dy","0.36em").attr("text-anchor","middle").attr("font-size",13.3).attr("fill",(d,i)=>fibTextColors[i]).text(d=>d);
pivotPrices.forEach(p=>hline(hlines,p,x(300.2),x(330),"#b2b5be",1.6));
hlines.selectAll("text.piv").data(pivotLabels).join("text").attr("class","piv")
 .attr("x",x(297.7)).attr("y",(d,i)=>y(pivotPrices[i])).attr("dy","0.36em").attr("text-anchor","end").attr("font-size",13.3).attr("fill","#a3a6af").text(d=>d);
leftFibPrices.forEach((p,i)=>hline(hlines,p,x(98.9),x(104),leftFibColors[i],1.4));
hlines.selectAll("text.lf").data(leftFibLabels).join("text").attr("class","lf")
 .attr("x",x(97.6)).attr("y",(d,i)=>y(leftFibPrices[i])).attr("dy","0.36em").attr("text-anchor","end").attr("font-size",13.3).attr("fill",(d,i)=>leftFibColors[i]).text(d=>d);
hline(hlines,supportLine,P.plot,P.axis,"#ff0000",2);
mintLevels.forEach(p=>hline(hlines,p,x(311.8),P.axis,"#69f0ae",1.6));
hline(hlines,orangeLevel,x(300.2),P.axis,"#ff9800",1);

// signal dots
main.append("g").selectAll("circle").data(redSignals).join("circle").attr("cx",d=>x(d[0])).attr("cy",d=>y(toPrice(d[1]))).attr("r",4.6).attr("fill","#f23645").attr("fill-opacity",.45);
main.append("g").selectAll("circle").data(greenSignals).join("circle").attr("cx",d=>x(d[0])).attr("cy",d=>y(toPrice(d[1]))).attr("r",4.6).attr("fill","#388e3c").attr("fill-opacity",.45);

// candles
const cg=main.append("g");
cg.selectAll("line").data(candles).join("line")
 .attr("x1",(d,i)=>x(i)).attr("x2",(d,i)=>x(i)).attr("y1",d=>y(toPrice(d[1]))).attr("y2",d=>y(toPrice(d[2]))).attr("stroke","#000").attr("stroke-width",1);
cg.selectAll("rect").data(candles).join("rect")
 .attr("x",(d,i)=>x(i)-2.4).attr("width",4.8)
 .attr("y",d=>y(toPrice(Math.max(d[0],d[3]))))
 .attr("height",d=>Math.max(1,Math.abs(y(toPrice(d[0]))-y(toPrice(d[3])))))
 .attr("fill",d=>d[3]>=d[0]?"#008000":"#ff0000");

// price lines
hline(main,lastPrice,P.plot,P.axis,"#008000",1,"1.2 2.4");
hline(main,bidPrice,P.plot,x(314),"#f23645",1,"1.2 2.4");

// forecast
addLine(main,forecastPath,"#2962ff",1.4,.9);
const tip=forecastPath[forecastPath.length-1];
main.append("path").attr("d",`M${x(tip[0])-5},${y(toPrice(tip[1]))+6}L${x(tip[0])},${y(toPrice(tip[1]))}L${x(tip[0])+5},${y(toPrice(tip[1]))+6}`).attr("fill","none").attr("stroke","#2962ff").attr("stroke-width",1.2);

// alert icon
const ic=svg.append("g").attr("transform","translate(2007,1001.5)");
ic.append("circle").attr("r",9.5).attr("fill","#fff").attr("stroke","#9c27b0").attr("stroke-width",1.6).attr("stroke-dasharray","14 2");
ic.append("path").attr("d","M1.5,-6L-3.5,1H-.5L-1.5,6L3.5,-1H.5Z").attr("fill","#9c27b0");
ic.append("circle").attr("cx",6.5).attr("cy",-8).attr("r",2.6).attr("fill","#f23645");

// oscillator
const osc=svg.append("g");
const oLine=d3.line().x(d=>x(d)).y((d,i)=>oy(cciValues[i])).curve(d3.curveLinear);
osc.append("line").attr("x1",x(cciFloorLine[0])).attr("x2",x(cciFloorLine[2])).attr("y1",oy(cciFloorLine[1])).attr("y2",oy(cciFloorLine[3])).attr("stroke","#c4c6cd").attr("stroke-width",1.6);
osc.append("line").attr("x1",x(0)-2).attr("x2",x(314)).attr("y1",oy(0)).attr("y2",oy(0)).attr("stroke","#787b86").attr("stroke-width",1.8);
osc.append("path").attr("clip-path","url(#oscUp)").attr("d",oLine(cciBars)).attr("fill","none").attr("stroke","#4caf50").attr("stroke-opacity",.62).attr("stroke-width",4).attr("stroke-linejoin","round");
osc.append("path").attr("clip-path","url(#oscDown)").attr("d",oLine(cciBars)).attr("fill","none").attr("stroke","#f6362c").attr("stroke-opacity",.55).attr("stroke-width",4).attr("stroke-linejoin","round");
osc.append("line").attr("x1",x(cciResistance[0])).attr("x2",x(cciResistance[2])).attr("y1",oy(cciResistance[1])).attr("y2",oy(cciResistance[3])).attr("stroke","#ff9800").attr("stroke-width",2.2);

// stochastic
const st=svg.append("g").attr("clip-path","url(#stClip)");
st.append("rect").attr("x",P.plot).attr("width",P.axis-P.plot).attr("y",sy(stochLevels[1])).attr("height",sy(stochLevels[2])-sy(stochLevels[1])).attr("fill","#eceef2").attr("fill-opacity",.6);
const stL=d3.line().x(d=>x(d[0])).y(d=>sy(d[1]));
[[stochLevels[0],"#f23645",1],[stochLevels[1],"#787b86",1],[stochLevels[2],"#787b86",1],[stochLevels[3],"#388e3c",1]].forEach(a=>{
  st.append("line").attr("x1",P.plot).attr("x2",P.axis).attr("y1",sy(a[0])).attr("y2",sy(a[0])).attr("stroke",a[1]).attr("stroke-width",a[2]);
});
st.append("line").attr("x1",P.plot).attr("x2",P.axis).attr("y1",sy(stochMid)).attr("y2",sy(stochMid)).attr("stroke","#b2b5be").attr("stroke-dasharray","5 4");
const stPath=(d,c,w)=>st.append("path").attr("d",stL(d)).attr("fill","none").attr("stroke",c).attr("stroke-width",w).attr("stroke-linejoin","round");
stPath(stochSlowK,"#4caf50",1);stPath(stochSlowD,"#f4514a",1.1);stPath(stochFastK,"#4caf50",0.9);stPath(stochFastD,"#f4514a",0.9);

// separators
const sep=(a,b,c,d,col,w=1)=>svg.append("line").attr("x1",a).attr("x2",b).attr("y1",c).attr("y2",d).attr("stroke",col).attr("stroke-width",w);
sep(P.l,P.r,P.main,P.main,"#e0e3eb",1.4);
sep(P.l,P.r,P.osc,P.osc,"#e0e3eb",1.4);
sep(P.l,P.r,P.st,P.st,"#787b86",1);
sep(P.plot,P.plot,P.t,P.b,"#787b86",1);
sep(P.axis,P.axis,P.t,P.b,"#787b86",1);

// price axis
const fontAxis=g=>{g.select(".domain").remove();g.selectAll("line").remove();g.selectAll("text").attr("fill","#131722").attr("font-size",12).attr("font-family","Roboto,sans-serif");};
const axisX=2291;
svg.append("g").attr("transform",`translate(${axisX},0)`).call(d3.axisRight(y).tickValues(priceTicks).tickFormat(d3.format(".5f")).tickSize(0).tickPadding(0)).call(fontAxis);
svg.append("g").attr("transform",`translate(${axisX},0)`).call(d3.axisRight(oy).tickValues(cciAxisTicks).tickFormat(d=>d3.format(".5f")(d).replace("-","\u2212")).tickSize(0).tickPadding(0)).call(fontAxis);
const syAxis=d3.scaleLinear().domain([100,0]).range([1133.5,1200]);
svg.append("g").attr("transform",`translate(${axisX},0)`).call(d3.axisRight(syAxis).tickValues(stochAxisTicks).tickFormat(d3.format(".2f")).tickSize(0).tickPadding(0)).call(fontAxis);
svg.append("g").attr("transform","translate(58,0)").call(d3.axisLeft(sy).tickValues(stochAxisTicks).tickFormat(d3.format(".2f")).tickSize(0).tickPadding(0)).call(fontAxis);

// USD tag
svg.append("rect").attr("x",2287.5).attr("y",30.5).attr("width",67).attr("height",26).attr("rx",3).attr("fill","#fff").attr("stroke","#e0e3eb");
svg.append("text").attr("x",2296).attr("y",48).attr("font-size",12).attr("fill","#131722").text("USD");
// last price tag
svg.append("rect").attr("x",P.axis+0.5).attr("y",156).attr("width",60.5).attr("height",30).attr("fill","#008000");
svg.append("text").attr("x",2314).attr("y",168.5).attr("text-anchor","middle").attr("font-size",12).attr("fill","#fff").text(d3.format(".5f")(lastPrice));
svg.append("text").attr("x",2314).attr("y",181).attr("text-anchor","middle").attr("font-size",12).attr("fill","#fff").attr("fill-opacity",.85).text(lastCountdown);

// time axis
const tAxis=svg.append("g").attr("clip-path","url(#timeClip)").append("g").attr("transform",`translate(0,${P.st})`)
 .call(d3.axisBottom(x).tickValues(timeTickBars).tickFormat((d,i)=>timeTickLabels[i]).tickSize(0).tickPadding(8));
tAxis.select(".domain").remove();
tAxis.selectAll("text").attr("font-size",12).attr("fill","#131722").attr("font-weight",(d,i)=>boldTicks.includes(timeTickLabels[i])?700:400).attr("font-family","Roboto,sans-serif");

// Z / A buttons
[[38,"Z"],[2320,"A"]].forEach(a=>{
 svg.append("circle").attr("cx",a[0]).attr("cy",1219).attr("r",9.5).attr("fill","#f0f3fa");
 svg.append("text").attr("x",a[0]).attr("y",1223).attr("text-anchor","middle").attr("font-size",12).attr("fill","#50535e").text(a[1]);
});
// footer logo
svg.append("path").attr("d","M10 1246h8.5v11.5h-4v-7.7h-4.5zM20 1257.5l4.5-11.5h4.5l-4.5 11.5z").attr("fill","#d1d4dc");
svg.append("circle").attr("cx",21.5).attr("cy",1248).attr("r",1.9).attr("fill","#d1d4dc");
svg.append("text").attr("x",33.5).attr("y",1257.5).attr("font-size",16).attr("fill","#d1d4dc").text("TradingView");
</script></body></html>
